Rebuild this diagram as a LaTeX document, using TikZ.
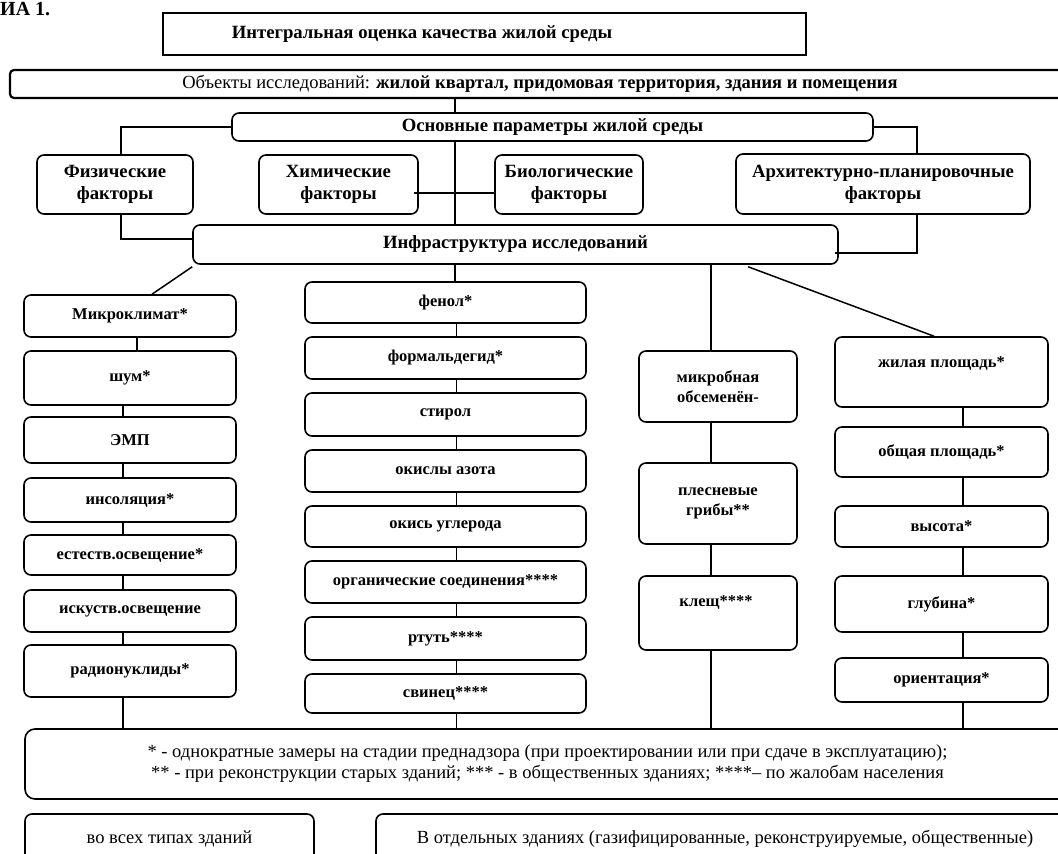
\documentclass[tikz,border=0pt]{standalone}
\usepackage{fontspec}
\setmainfont{Liberation Serif}
\begin{document}
\begin{tikzpicture}[x=1pt,y=-1pt,
 bx/.style={draw, line width=1.6pt, rounded corners=7pt, inner sep=0pt, align=center},
 ln/.style={line width=1.5pt},
 big/.style={font=\fontsize{18.7}{22}\selectfont\bfseries},
 itm/.style={font=\fontsize{16.5}{20}\selectfont\bfseries},
 nt/.style={font=\fontsize{18.5}{21}\selectfont},
 tx/.style={inner sep=0pt, align=center}]
\useasboundingbox (0,0) rectangle (1058,854);

% caption fragment
\node[tx, anchor=base west, font=\fontsize{20}{20}\selectfont\bfseries] (cap) at (0,15) {ИА 1.};

% top
\node[bx, rounded corners=0pt, line width=2pt, minimum width=643pt, minimum height=42pt] (title) at (484.5,34) {};
\node[tx, big] (titletext) at (422,34) {Интегральная оценка качества жилой среды};
\node[bx, rounded corners=4pt, line width=2.2pt, minimum width=1060pt, minimum height=28pt, font=\fontsize{18.5}{20}\selectfont] (obj) at (540,84) {Объекты исследований: \textbf{жилой квартал, придомовая территория, здания и помещения}};
\node[bx, big, minimum width=641pt, minimum height=28pt] (osn) at (552.5,127) {Основные параметры жилой среды};

\node[bx, big, minimum width=156pt, minimum height=59pt] (fiz) at (115,184.5) {Физические\\факторы};
\node[bx, big, minimum width=159pt, minimum height=59pt] (him) at (338.5,184.5) {Химические\\факторы};
\node[bx, big, minimum width=148pt, minimum height=59pt] (bio) at (569,184.5) {Биологические\\факторы};
\node[bx, big, minimum width=294pt, minimum height=60pt] (arch) at (883,184) {Архитектурно-планировочные\\факторы};

\node[bx, big, minimum width=645pt, minimum height=39pt] (infra) at (515.5,244.5) {Инфраструктура исследований};

% left column
\begin{scope}[every node/.style={bx, itm, minimum width=212pt}]
\node[minimum height=42pt] (mk) at (130,316) {Микроклимат*};
\node[minimum height=54pt] (shum) at (130,378) {шум*};
\node[minimum height=46pt] (emp) at (130,440) {ЭМП};
\node[minimum height=44pt] (ins) at (130,500) {инсоляция*};
\node[minimum height=40pt] (est) at (130,555) {естеств.освещение*};
\node[minimum height=42pt] (isk) at (130,611) {искуств.освещение};
\node[minimum height=52pt] (rad) at (130,671) {радионуклиды*};
\end{scope}

% middle column
\begin{scope}[every node/.style={bx, itm, minimum width=281pt}]
\node[minimum height=41pt] (fen) at (445.5,302.5) {фенол*};
\node[minimum height=42pt] (form) at (445.5,358) {формальдегид*};
\node[minimum height=43pt] (stir) at (445.5,414.5) {стирол};
\node[minimum height=42pt] (oks) at (445.5,471) {окислы азота};
\node[minimum height=41pt] (okis) at (445.5,526.5) {окись углерода};
\node[minimum height=42pt] (org) at (445.5,582) {органические соединения****};
\node[minimum height=43pt] (rt) at (445.5,638.5) {ртуть****};
\node[minimum height=39pt] (svin) at (445.5,693.5) {свинец****};
\end{scope}

% biological column
\begin{scope}[every node/.style={bx, itm, minimum width=158pt}]
\node[minimum height=71pt] (mikr) at (718,386.5) {микробная\\обсеменён-};
\node[minimum height=81pt] (pl) at (718,503.5) {плесневые\\грибы**};
\node[minimum height=74pt] (kl) at (718,613) {};
\end{scope}
\node[tx, itm] (kltext) at (716,602) {клещ****};

% architectural column
\begin{scope}[every node/.style={bx, itm, minimum width=213pt}]
\node[minimum height=70pt] (zhil) at (941.5,372) {};
\node[minimum height=50pt] (obsh) at (941.5,452) {общая площадь*};
\node[minimum height=41pt] (vys) at (941.5,526.5) {высота*};
\node[minimum height=56pt] (glub) at (941.5,604) {глубина*};
\node[minimum height=44pt] (ori) at (941.5,680) {ориентация*};
\end{scope}
\node[tx, itm] (zhiltext) at (941.5,363) {жилая площадь*};

% notes and bottom
\node[bx, nt, rounded corners=10pt, minimum width=1045pt, minimum height=70pt] (note) at (547.5,764) {* - однократные замеры на стадии преднадзора (при проектировании или при сдаче в эксплуатацию);\\ ** - при реконструкции старых зданий; *** - в общественных зданиях; ****– по жалобам населения};
\node[bx, nt, minimum width=289pt, minimum height=56pt] (b1) at (169.5,842) {};
\node[tx, nt] (b1text) at (169.5,839) {во всех типах зданий};
\node[bx, nt, minimum width=694pt, minimum height=56pt] (b2) at (723,842) {};
\node[tx, nt] (b2text) at (725,839) {В отдельных зданиях (газифицированные, реконструируемые, общественные)};

% connectors
\coordinate (sp) at (455,0);
\coordinate (bs) at (711,0);
\draw[ln] (sp |- obj.south) -- (sp |- osn.north);
\draw[ln] (osn.west) -| ([xshift=6pt]fiz.north);
\draw[ln] (osn.east) -| ([xshift=34pt]arch.north);
\draw[ln] ([shift={(-5,8.5)}]him.east) -- (bio.west |- 0,193);
\draw[ln] (sp |- osn.south) -- (sp |- infra.north);
\draw[ln] ([xshift=6pt]fiz.south) |- ([yshift=5.5pt]infra.west);
\draw[ln] ([xshift=34pt]arch.south) |- ([shift={(-4,8.5)}]infra.east);
\draw[ln] ([yshift=-2pt]infra.south west) -- ([xshift=22pt]mk.north);
\draw[ln] (sp |- infra.south) -- (sp |- fen.north);
\draw[ln] (bs |- infra.south) -- (bs |- mikr.north);
\draw[ln] ([shift={(556,2)}]infra.south west) -- ([xshift=-7.5pt]zhil.north);

\draw[ln] ([xshift=7pt]mk.south) -- ([xshift=7pt]shum.north);
\foreach \a/\b in {shum/emp, emp/ins, ins/est, est/isk, isk/rad}
  \draw[ln] ([xshift=-7pt]\a.south) -- ([xshift=-7pt]\b.north);
\draw[ln] ([xshift=-7pt]rad.south) -- ([xshift=-7pt]rad.south |- note.north);

\foreach \a/\b in {fen/form, form/stir, stir/oks, oks/okis, okis/org, org/rt, rt/svin}
  \draw[ln] ([xshift=11pt]\a.south) -- ([xshift=11pt]\b.north);
\draw[ln] ([xshift=11pt]svin.south) -- ([xshift=11pt]svin.south |- note.north);

\foreach \a/\b in {mikr/pl, pl/kl}
  \draw[ln] ([xshift=-7pt]\a.south) -- ([xshift=-7pt]\b.north);
\draw[ln] ([xshift=-7pt]kl.south) -- ([xshift=-7pt]kl.south |- note.north);

\foreach \a/\b in {zhil/obsh, obsh/vys, vys/glub, glub/ori}
  \draw[ln] ([xshift=21.5pt]\a.south) -- ([xshift=21.5pt]\b.north);
\draw[ln] ([xshift=21.5pt]ori.south) -- ([xshift=21.5pt]ori.south |- note.north);
\end{tikzpicture}
\end{document}
